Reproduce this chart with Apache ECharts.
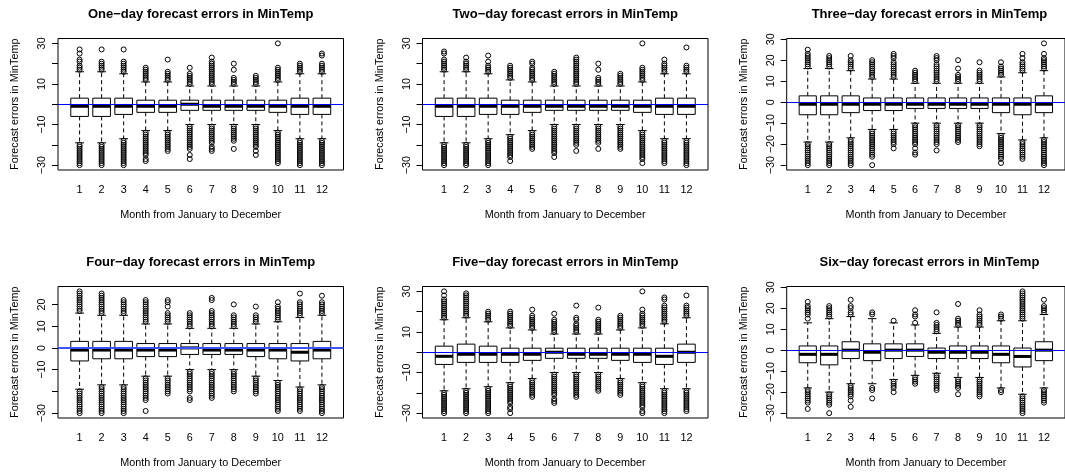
<!DOCTYPE html>
<html><head><meta charset="utf-8">
<script src="https://cdn.jsdelivr.net/npm/echarts@6/dist/echarts.min.js"></script>
<style>html,body{margin:0;padding:0;background:#fff}#c{width:1065px;height:474px}</style>
</head><body><div id="c"></div>
<script>
// ---------- DATA ----------
const months = [1,2,3,4,5,6,7,8,9,10,11,12];
const panelTitles = [
  'One\u2212day forecast errors in MinTemp',
  'Two\u2212day forecast errors in MinTemp',
  'Three\u2212day forecast errors in MinTemp',
  'Four\u2212day forecast errors in MinTemp',
  'Five\u2212day forecast errors in MinTemp',
  'Six\u2212day forecast errors in MinTemp'
];
const xAxisTitle = 'Month from January to December';
const yAxisTitle = 'Forecast errors in MinTemp';
const yTickValues = [-30,-20,-10,0,10,20,30];
const yLabelValues = [
  [30,10,-10,-30],
  [30,10,-10,-30],
  [30,20,10,0,-10,-20,-30],
  [20,10,0,-10,-30],
  [30,10,-10,-30],
  [30,20,10,0,-10,-20,-30]
];

// box stats per month: [lower whisker, Q1, median, Q3, upper whisker]
const oneDayBox = [[-19,-6,-1,3,16],[-19,-6,-1,3,16],[-17,-5,-1,3,15],[-13,-4,-1,2,11],[-13,-4,-1,2,11],[-10,-3,0,2,9],
  [-10,-3,-1,2,9],[-10,-3,-1,2,9],[-10,-3,-1,2,9],[-13,-4,-1,2,11],[-17,-5,-1,3,15],[-17,-5,-1,3,15]];
const oneDayOut = [
  [17,18,19,21,22,25,27,-20,-21,-22,-23,-24,-25,-26,-27,-28,-29,-30],
  [17,18,19,20,21,27,-20,-21,-22,-23,-24,-25,-26,-27,-28,-29,-30],
  [16,17,18,19,20,21,27,-18,-19,-20,-21,-22,-23,-24,-25,-26,-27,-28,-29,-30],
  [12,13,14,15,16,17,18,-14,-15,-16,-17,-18,-19,-20,-21,-22,-23,-24,-25,-27,-28],
  [12,13,14,15,16,22,-14,-15,-16,-17,-18,-19,-20,-21,-22,-23],
  [10,11,12,13,14,15,18,-11,-12,-13,-14,-15,-16,-17,-18,-19,-20,-21,-22,-25,-27],
  [10,11,12,13,14,15,16,17,18,19,20,21,23,-11,-12,-13,-14,-15,-16,-17,-18,-19,-21,-22,-23],
  [10,11,12,13,17,20,-11,-12,-13,-14,-15,-16,-17,-18,-22],
  [10,11,12,13,14,-11,-12,-13,-14,-15,-16,-17,-18,-19,-20,-21,-23,-25],
  [12,13,14,15,16,17,18,30,-14,-15,-16,-17,-18,-19,-20,-21,-22,-23,-24,-25,-26,-27,-28,-29],
  [16,17,18,19,20,-18,-19,-20,-21,-22,-23,-24,-25,-26,-27,-28,-29,-30],
  [16,17,18,19,20,24,25,-18,-19,-20,-21,-22,-23,-24,-25,-26,-27,-28,-29,-30]
];

const twoDayBox = [[-19,-6,-1,3,16],[-19,-6,-1,3,16],[-17,-5,-1,3,15],[-15,-5,-1,2,12],[-13,-4,-1,2,11],[-10,-3,-1,2,9],
  [-10,-3,-1,2,9],[-10,-3,-1,2,9],[-10,-3,-1,2,9],[-13,-4,-1,2,11],[-17,-5,-1,3,15],[-17,-5,-1,3,15]];
const twoDayOut = [
  [17,18,19,20,21,22,25,26,-20,-21,-22,-23,-24,-25,-26,-27,-28,-29,-30],
  [17,18,19,20,21,23,-20,-21,-22,-23,-24,-25,-26,-27,-28,-29,-30],
  [16,17,18,19,21,24,-18,-19,-20,-21,-22,-23,-24,-25,-26,-27,-28,-29,-30],
  [13,14,15,16,17,18,19,-16,-17,-18,-19,-20,-21,-22,-23,-24,-25,-26,-28],
  [12,13,14,15,16,17,18,20,21,-14,-15,-16,-17,-18,-19,-20,-21,-22],
  [10,11,12,13,14,15,16,-11,-12,-13,-14,-15,-16,-17,-18,-19,-20,-21,-22,-23,-24,-26],
  [10,11,12,13,14,15,16,17,18,19,20,21,22,23,-11,-12,-13,-14,-15,-16,-17,-18,-19,-20,-23],
  [10,11,12,13,17,20,-11,-12,-13,-14,-15,-16,-17,-18,-19,-22],
  [10,11,12,13,14,15,-11,-12,-13,-14,-15,-16,-17,-18,-19,-20,-21,-22],
  [12,13,14,15,16,17,18,30,-14,-15,-16,-17,-18,-19,-20,-21,-22,-23,-24,-25,-26,-27,-29],
  [16,17,18,19,20,22,-18,-19,-20,-21,-22,-23,-24,-25,-26,-27,-28,-29],
  [16,17,18,19,28,-18,-19,-20,-21,-22,-23,-24,-25,-26,-27,-28,-29,-30]
];

const threeDayBox = [[-19,-6,-1,3,16],[-19,-6,-1,3,16],[-17,-5,-1,3,15],[-13,-4,-1,2,11],[-13,-4,-1,2,11],[-10,-3,-1,2,9],
  [-10,-3,-1,2,9],[-10,-3,-1,2,9],[-10,-3,-1,2,9],[-15,-5,-1,2,12],[-18,-6,-1,2,14],[-17,-5,-1,3,15]];
const threeDayOut = [
  [17,18,19,20,21,22,23,25,-20,-21,-22,-23,-24,-25,-26,-27,-28,-29,-30],
  [17,18,19,20,21,22,-20,-21,-22,-23,-24,-25,-26,-27,-28,-29,-30],
  [16,17,18,19,20,22,-18,-19,-20,-21,-22,-23,-24,-25,-26,-27,-28,-29,-30],
  [12,13,14,15,16,17,18,19,20,-14,-15,-16,-17,-18,-19,-20,-21,-22,-23,-24,-25,-26,-30],
  [12,13,14,15,16,17,18,19,21,22,23,-14,-15,-16,-17,-18,-19,-20,-22],
  [10,11,12,13,14,15,-11,-12,-13,-14,-15,-16,-17,-18,-19,-20,-22,-24,-25],
  [10,11,12,13,14,15,16,17,18,20,21,22,-11,-12,-13,-14,-15,-16,-17,-18,-19,-20,-23],
  [10,11,12,13,16,20,-11,-12,-13,-14,-15,-16,-17,-18,-19],
  [10,11,12,13,14,15,19,-11,-12,-13,-14,-15,-16,-17,-18,-19,-20,-21],
  [13,14,15,16,17,19,-16,-17,-18,-19,-20,-21,-22,-23,-24,-25,-26,-27,-29],
  [15,16,17,18,19,21,23,-19,-20,-21,-22,-23,-24,-25,-26,-27],
  [16,17,18,19,20,21,23,28,-18,-19,-20,-21,-22,-23,-24,-25,-26,-27,-28,-29,-30]
];

const fourDayBox = [[-19,-6,-1,3,16],[-17,-5,-1,3,15],[-17,-5,-1,3,15],[-13,-4,-1,2,11],[-13,-4,-1,2,11],[-10,-3,0,2,9],
  [-10,-3,-1,2,9],[-10,-3,-1,2,9],[-13,-4,-1,2,11],[-15,-5,-1,2,12],[-18,-6,-2,2,14],[-17,-5,-1,3,15]];
const fourDayOut = [
  [17,18,19,20,21,22,23,24,25,26,-20,-21,-22,-23,-24,-25,-26,-27,-28,-29,-30],
  [16,17,18,19,20,21,22,23,24,25,-18,-19,-20,-21,-22,-23,-24,-25,-26,-27,-28,-29,-30],
  [16,17,18,19,20,21,22,-18,-19,-20,-21,-22,-23,-24,-25,-26,-27,-28,-29,-30],
  [12,13,14,15,16,17,18,19,20,21,22,-14,-15,-16,-17,-18,-19,-20,-21,-22,-23,-24,-29],
  [12,13,14,15,16,19,21,22,-14,-15,-16,-17,-18,-19,-20,-21],
  [10,11,12,13,14,15,16,-11,-12,-13,-14,-15,-16,-17,-18,-19,-20,-23,-24],
  [10,11,12,13,14,15,16,17,22,23,-11,-12,-13,-14,-15,-16,-17,-18,-19,-20,-21,-22,-23],
  [10,11,12,13,14,15,20,-11,-12,-13,-14,-15,-16,-17,-18,-19,-20],
  [12,13,14,15,19,-14,-15,-16,-17,-18,-19,-20,-21],
  [13,14,15,16,17,18,19,21,-16,-17,-18,-19,-20,-21,-22,-23,-24,-25,-26,-27,-28,-29],
  [15,16,17,18,19,20,21,25,-19,-20,-21,-22,-23,-24,-25,-26,-27,-28,-29],
  [16,17,18,19,20,21,24,-18,-19,-20,-21,-22,-23,-24,-25,-26,-27,-28,-29,-30]
];

const fiveDayBox = [[-19,-6,-2,3,16],[-18,-5,-1,4,17],[-17,-5,-1,3,15],[-15,-5,-1,2,12],[-13,-4,-1,2,11],[-10,-3,0,2,9],
  [-10,-3,-1,2,9],[-10,-3,-1,2,9],[-13,-4,-1,2,11],[-15,-5,-1,2,12],[-18,-6,-2,2,14],[-18,-5,0,4,17]];
const fiveDayOut = [
  [17,18,19,20,21,22,23,24,25,26,28,30,-20,-21,-22,-23,-24,-25,-26,-27,-28,-29,-30],
  [18,19,20,21,22,23,24,25,26,27,28,29,-19,-20,-21,-22,-23,-24,-25,-26,-27,-28,-29,-30],
  [16,17,18,19,20,-18,-19,-20,-21,-22,-23,-24,-25,-26,-27,-28,-29,-30],
  [13,14,15,16,17,18,19,20,-16,-17,-18,-19,-20,-21,-22,-23,-24,-25,-27,-28,-30],
  [12,13,14,15,16,17,18,21,-14,-15,-16,-17,-18,-19,-20,-21,-22],
  [10,11,12,13,14,15,16,19,-11,-12,-13,-14,-15,-16,-17,-18,-19,-20,-21,-23,-24,-25],
  [10,11,12,13,14,16,17,23,-11,-12,-13,-14,-15,-16,-17,-18,-19,-20,-21,-22],
  [10,11,12,13,14,15,16,22,-11,-12,-13,-14,-15,-16,-17,-18,-19],
  [12,13,14,15,16,17,18,-14,-15,-16,-17,-18,-19,-20,-21],
  [13,14,15,16,17,18,19,21,30,-16,-17,-18,-19,-20,-21,-22,-23,-24,-25,-26,-27,-29,-30],
  [15,16,17,18,19,20,21,22,23,26,27,-19,-20,-21,-22,-23,-24,-25,-26,-27,-28,-29,-30],
  [18,19,20,21,22,23,28,-19,-20,-21,-22,-23,-24,-25,-26,-27,-28,-29]
];

const sixDayBox = [[-18,-6,-2,2,13],[-20,-7,-2,2,15],[-16,-4,0,4,16],[-16,-5,-1,3,15],[-14,-4,0,3,13],[-12,-3,0,3,12],
  [-11,-4,-1,1,8],[-13,-4,-1,2,11],[-13,-4,-1,2,11],[-18,-6,-2,2,14],[-21,-8,-3,1,14],[-18,-5,0,4,17]];
const sixDayOut = [
  [15,17,18,19,20,21,23,-19,-20,-21,-22,-23,-24,-25,-28],
  [16,17,18,19,20,21,-21,-22,-23,-24,-25,-26,-30],
  [17,18,20,21,24,-17,-18,-19,-20,-21,-22,-24,-27],
  [17,18,-18,-19,-23],
  [14,-15,-16,-17,-18,-20],
  [13,16,17,19,-13,-14,-15,-16],
  [9,10,11,12,13,18,-12,-13,-14,-15,-16,-17,-18,-19],
  [12,13,14,15,22,-14,-15,-16,-17,-18,-21],
  [12,13,14,15,16,17,19,-14,-15,-16,-17,-18,-19,-20,-21,-22],
  [15,16,17,-19,-20],
  [15,16,17,18,19,20,21,22,23,24,25,26,27,28,-22,-23,-24,-25,-26,-27,-28,-29,-30],
  [18,19,20,21,24,-19,-20,-21,-22,-23,-24,-25]
];

const panelBoxes = [oneDayBox, twoDayBox, threeDayBox, fourDayBox, fiveDayBox, sixDayBox];
const panelOutliers = [oneDayOut, twoDayOut, threeDayOut, fourDayOut, fiveDayOut, sixDayOut];

// ---------- LAYOUT ----------
const FONT = 'Liberation Sans, Arial, Helvetica, sans-serif';
const FS = 10.8;
const colLeft = [58, 422.5, 786.7];
const rowTop = [38.5, 286.5];
const gW = 285.5, gH = 131.5;
const blueWidth = [1, 1, 1, 2, 1, 1];
const blueColor = ['#0000ff','#0000ff','#0000ff','#3f51f5','#0000ff','#0000ff'];

const minus = v => (v < 0 ? '\u2212' + (-v) : String(v));

function renderBox(params, api) {
  const x = api.value(0);
  const lo = api.value(1), q1 = api.value(2), md = api.value(3), q3 = api.value(4), hi = api.value(5);
  const pLo = api.coord([x, lo]), pQ1 = api.coord([x, q1]), pMd = api.coord([x, md]),
        pQ3 = api.coord([x, q3]), pHi = api.coord([x, hi]);
  const hw = api.size([0.4, 0])[0];
  const cx = pMd[0];
  const solid = { stroke: '#000', lineWidth: 1, fill: null };
  const dashed = { stroke: '#000', lineWidth: 1, lineDash: [4, 3], fill: null };
  return {
    type: 'group',
    children: [
      { type: 'line', shape: { x1: cx, y1: pQ3[1], x2: cx, y2: pHi[1] }, style: dashed },
      { type: 'line', shape: { x1: cx, y1: pQ1[1], x2: cx, y2: pLo[1] }, style: dashed },
      { type: 'line', shape: { x1: cx - hw / 2, y1: pHi[1], x2: cx + hw / 2, y2: pHi[1] }, style: solid },
      { type: 'line', shape: { x1: cx - hw / 2, y1: pLo[1], x2: cx + hw / 2, y2: pLo[1] }, style: solid },
      { type: 'rect', shape: { x: cx - hw, y: pQ3[1], width: 2 * hw, height: pQ1[1] - pQ3[1] },
        style: { stroke: '#000', lineWidth: 1, fill: '#fff' } },
      { type: 'line', shape: { x1: cx - hw, y1: pMd[1], x2: cx + hw, y2: pMd[1] },
        style: { stroke: '#000', lineWidth: 3 } }
    ]
  };
}

const option = {
  animation: false,
  backgroundColor: '#fff',
  title: [], grid: [], xAxis: [], yAxis: [], series: []
};

for (let p = 0; p < 6; p++) {
  const r = Math.floor(p / 3), c = p % 3;
  const left = colLeft[c], top = rowTop[r];
  const boxes = panelBoxes[p], outs = panelOutliers[p];
  let dmin = Infinity, dmax = -Infinity;
  boxes.forEach(b => { dmin = Math.min(dmin, b[0]); dmax = Math.max(dmax, b[4]); });
  outs.forEach(o => o.forEach(v => { dmin = Math.min(dmin, v); dmax = Math.max(dmax, v); }));
  const ext = (dmax - dmin) * 0.04;
  const ymin = dmin - ext, ymax = dmax + ext;

  option.title.push({
    text: panelTitles[p], left: left + gW / 2, top: top - 31, textAlign: 'center', padding: 0,
    textStyle: { fontFamily: FONT, fontSize: 13, fontWeight: 'bold', color: '#000', lineHeight: 14 }
  });
  option.grid.push({ left: left, top: top, width: gW, height: gH, show: true,
    borderColor: '#000', borderWidth: 1, backgroundColor: 'transparent', containLabel: false });
  option.xAxis.push({
    gridIndex: p, type: 'value', min: 0.02, max: 12.98,
    axisLine: { show: false }, splitLine: { show: false },
    axisTick: { show: true, customValues: months, length: 6, lineStyle: { color: '#000', width: 1 } },
    axisLabel: { customValues: months, margin: 15, fontSize: FS, fontFamily: FONT, color: '#000',
      formatter: v => String(v) },
    name: xAxisTitle, nameLocation: 'middle', nameGap: 40,
    nameTextStyle: { fontSize: FS, fontFamily: FONT, color: '#000' }
  });
  const tv = yTickValues.filter(v => v >= ymin && v <= ymax);
  option.yAxis.push({
    gridIndex: p, type: 'value', min: ymin, max: ymax,
    axisLine: { show: false }, splitLine: { show: false },
    axisTick: { show: true, customValues: tv, length: 6, lineStyle: { color: '#000', width: 1 } },
    axisLabel: { customValues: yLabelValues[p], rotate: 90, margin: 10, fontSize: FS, fontFamily: FONT,
      color: '#000', formatter: v => minus(v) },
    name: yAxisTitle, nameLocation: 'middle', nameRotate: 90, nameGap: 37,
    nameTextStyle: { fontSize: FS, fontFamily: FONT, color: '#000' }
  });
  option.series.push({
    type: 'custom', xAxisIndex: p, yAxisIndex: p, z: 2, silent: true,
    renderItem: renderBox,
    encode: { x: 0, y: [1, 2, 3, 4, 5] },
    data: boxes.map((b, i) => [months[i], b[0], b[1], b[2], b[3], b[4]])
  });
  const pts = [];
  outs.forEach((o, i) => o.forEach(v => pts.push([months[i], v])));
  option.series.push({
    type: 'scatter', xAxisIndex: p, yAxisIndex: p, z: 3, silent: true,
    symbol: 'circle', symbolSize: 5,
    itemStyle: { color: 'rgba(0,0,0,0)', borderColor: '#000', borderWidth: 1, opacity: 1 },
    data: pts,
    markLine: {
      silent: true, symbol: ['none', 'none'], label: { show: false }, animation: false,
      lineStyle: { color: blueColor[p], width: blueWidth[p], type: 'solid' },
      emphasis: { disabled: true },
      data: [{ yAxis: 0 }]
    }
  });
}

const chart = echarts.init(document.getElementById('c'), null, { renderer: 'canvas' });
chart.setOption(option);
</script>
</body></html>
